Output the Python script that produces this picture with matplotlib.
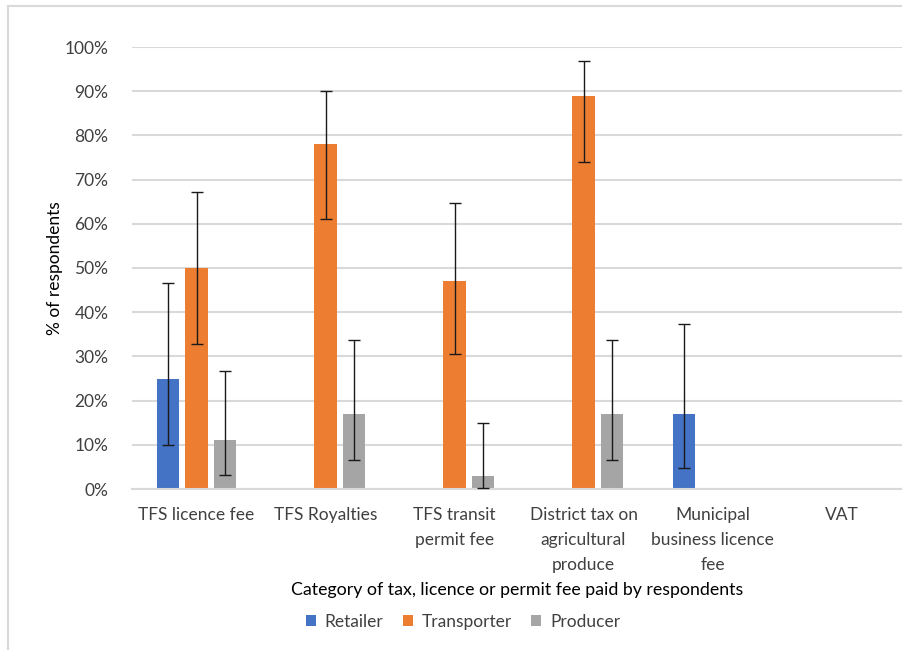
import numpy as np
import matplotlib
matplotlib.use("Agg")
import matplotlib.pyplot as plt
from matplotlib.lines import Line2D
from matplotlib.patches import Patch

plt.rcParams['font.family'] = ['Lato', 'DejaVu Sans']

categories = ["TFS licence fee", "TFS Royalties", "TFS transit\npermit fee",
              "District tax on\nagricultural\nproduce", "Municipal\nbusiness licence\nfee", "VAT"]
series = ["Retailer", "Transporter", "Producer"]
colors = ["#4472C4", "#ED7D31", "#A5A5A5"]

nan = np.nan
retailer = [25, nan, nan, nan, 17, nan]
retailer_lo = [10, nan, nan, nan, 4.8, nan]
retailer_hi = [46.7, nan, nan, nan, 37.3, nan]

transporter = [50, 78, 47, 89, nan, nan]
transporter_lo = [32.9, 61, 30.5, 74, nan, nan]
transporter_hi = [67.1, 90, 64.6, 96.8, nan, nan]

producer = [11, 17, 3, 17, nan, nan]
producer_lo = [3.2, 6.6, 0.2, 6.6, nan, nan]
producer_hi = [26.8, 33.6, 14.9, 33.6, nan, nan]

yticks = [0, 10, 20, 30, 40, 50, 60, 70, 80, 90, 100]

W, H = 902, 650
fig = plt.figure(figsize=(W / 100, H / 100), dpi=100)
ax = fig.add_axes([132 / W, (H - 489) / H, (906 - 132) / W, 442 / H])

x = np.arange(len(categories))
offsets = [-0.222, 0, 0.222]
width = 0.172
data = [(retailer, retailer_lo, retailer_hi),
        (transporter, transporter_lo, transporter_hi),
        (producer, producer_lo, producer_hi)]

for i, (vals, lo, hi) in enumerate(data):
    v = np.array(vals, dtype=float)
    l = np.array(lo, dtype=float)
    h = np.array(hi, dtype=float)
    mask = ~np.isnan(v)
    xs = x[mask] + offsets[i]
    ax.bar(xs, v[mask], width=width, color=colors[i], zorder=2)
    yerr = np.vstack([v[mask] - l[mask], h[mask] - v[mask]])
    ax.errorbar(xs, v[mask], yerr=yerr, fmt='none', ecolor='#1a1a1a',
                elinewidth=1.0, capsize=4, capthick=1.0, zorder=3)

ax.set_xlim(-0.5, len(categories) - 0.5)
ax.set_ylim(0, 100)
ax.set_yticks(yticks)
ax.set_yticklabels([f"{t}%" for t in yticks], fontsize=12.5, color='#404040')
ax.yaxis.grid(True, color='#D9D9D9', linewidth=1.5, zorder=0)
ax.set_axisbelow(True)
ax.tick_params(axis='y', length=0, pad=17)
ax.set_xticks(x)
ax.set_xticklabels(categories, fontsize=12.5, color='#404040', linespacing=1.7, va='top')
ax.tick_params(axis='x', length=0, pad=13)
for s in ['top', 'right', 'left']:
    ax.spines[s].set_visible(False)
ax.spines['bottom'].set_color('#D9D9D9')
ax.spines['bottom'].set_linewidth(1.5)

fig.text(55 / W, 1 - 268 / H, "% of respondents", rotation=90,
         ha='center', va='center', fontsize=12.5, color='#000000')
fig.text(517 / W, 1 - 590 / H, "Category of tax, licence or permit fee paid by respondents",
         ha='center', va='center', fontsize=12.8, color='#000000')

handles = [Patch(facecolor=c, edgecolor='none') for c in colors]
fig.legend(handles, series, loc='center', bbox_to_anchor=(463 / W, 1 - 622 / H),
           ncol=3, frameon=False, fontsize=12.5, handlelength=0.6, handleheight=0.6,
           columnspacing=1.1, handletextpad=0.5, labelcolor='#404040')

# outer chart border
fig.add_artist(Line2D([8 / W, 8 / W], [0, 1 - 6 / H], transform=fig.transFigure,
                      color='#D9D9D9', linewidth=1.5))
fig.add_artist(Line2D([8 / W, 1], [1 - 6 / H, 1 - 6 / H], transform=fig.transFigure,
                      color='#D9D9D9', linewidth=1.5))

fig.savefig("out.png", dpi=100)
